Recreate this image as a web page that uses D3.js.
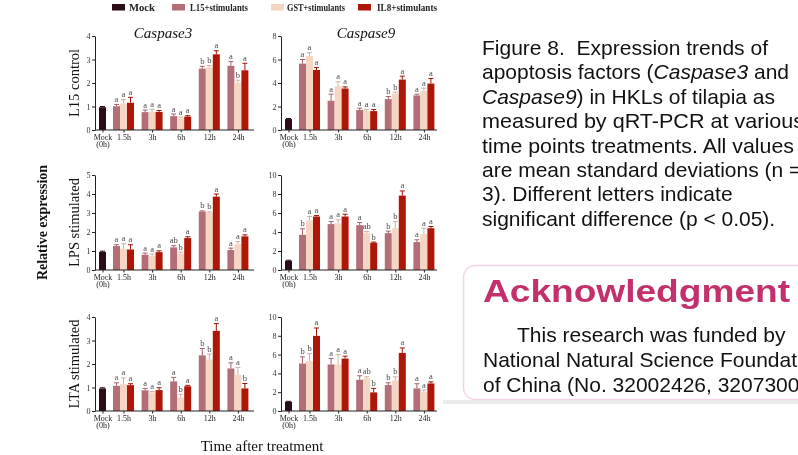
<!DOCTYPE html>
<html>
<head>
<meta charset="utf-8">
<script src="https://cdn.jsdelivr.net/npm/d3@7"></script>
<style>
  html, body { margin: 0; padding: 0; background: #fff; }
  svg { display: block; will-change: transform; }
  text { white-space: pre; }
</style>
</head>
<body>
<svg id="fig" width="798" height="455"></svg>
<script>
// ---- categories ----
const timePoints = ["1.5h", "3h", "6h", "12h", "24h"];
const seriesNames = ["L15+stimulants", "GST+stimulants", "IL8+stimulants"];
const legendNames = ["Mock", "L15+stimulants", "GST+stimulants", "IL8+stimulants"];
const genes = ["Caspase3", "Caspase9"];
const treatments = ["L15 control", "LPS stimulated", "LTA stimulated"];

// y-axis maxima and tick steps, [treatment][gene]
const yMaxima = [[4, 8], [5, 10], [4, 10]];
const yTickSteps = [1, 2];

// Mock (0h) mean and SD, [treatment][gene]
const mockMean = [[0.97, 0.93], [0.95, 0.98], [0.96, 0.99]];
const mockErr  = [[0.03, 0.05], [0.04, 0.05], [0.03, 0.04]];

// rows: L15, GST, IL8 ; columns: time points
const casp3ControlMean = [[1.01, 0.76, 0.59, 2.61, 2.73], [1.13, 0.76, 0.49, 2.66, 2.02], [1.16, 0.77, 0.57, 3.22, 2.54]];
const casp3ControlErr  = [[0.08, 0.09, 0.09, 0.10, 0.18], [0.16, 0.12, 0.06, 0.08, 0.10], [0.23, 0.06, 0.04, 0.15, 0.30]];
const casp3ControlSig  = [["a", "a", "a", "b", "a"], ["a", "a", "a", "b", "b"], ["a", "a", "a", "a", "a"]];

const casp9ControlMean = [[5.65, 2.49, 1.70, 2.63, 2.94], [6.30, 3.73, 1.64, 3.10, 3.33], [5.11, 3.53, 1.61, 4.29, 3.95]];
const casp9ControlErr  = [[0.35, 0.56, 0.16, 0.22, 0.11], [0.28, 0.37, 0.11, 0.12, 0.23], [0.20, 0.14, 0.14, 0.29, 0.43]];
const casp9ControlSig  = [["a", "a", "a", "b", "a"], ["a", "a", "a", "b", "a"], ["a", "a", "a", "a", "a"]];

const casp3LpsMean = [[1.26, 0.80, 1.19, 3.08, 1.05], [1.12, 0.75, 0.87, 3.02, 1.36], [1.08, 0.94, 1.68, 3.86, 1.77]];
const casp3LpsErr  = [[0.07, 0.09, 0.09, 0.03, 0.10], [0.26, 0.09, 0.07, 0.04, 0.14], [0.25, 0.07, 0.07, 0.14, 0.08]];
const casp3LpsSig  = [["a", "a", "ab", "b", "a"], ["a", "a", "b", "b", "a"], ["a", "a", "a", "a", "a"]];

const casp9LpsMean = [[3.70, 4.83, 4.72, 3.88, 2.94], [5.20, 4.90, 3.88, 4.40, 3.78], [5.63, 5.63, 2.87, 7.83, 4.40]];
const casp9LpsErr  = [[0.64, 0.27, 0.28, 0.21, 0.24], [0.43, 0.38, 0.17, 0.70, 0.62], [0.10, 0.24, 0.07, 0.49, 0.18]];
const casp9LpsSig  = [["b", "a", "a", "b", "a"], ["a", "a", "ab", "b", "a"], ["a", "a", "b", "a", "a"]];

const casp3LtaMean = [[1.07, 0.88, 1.26, 2.37, 1.81], [1.14, 0.79, 0.58, 2.20, 1.55], [1.10, 0.89, 1.05, 3.41, 0.96]];
const casp3LtaErr  = [[0.13, 0.08, 0.17, 0.29, 0.24], [0.27, 0.04, 0.13, 0.22, 0.30], [0.06, 0.10, 0.04, 0.31, 0.21]];
const casp3LtaSig  = [["a", "a", "a", "b", "a"], ["a", "a", "b", "b", "a"], ["a", "a", "a", "a", "b"]];

const casp9LtaMean = [[5.05, 4.95, 3.32, 2.76, 2.40], [5.30, 4.95, 3.46, 3.25, 2.05], [7.99, 5.58, 1.98, 6.18, 2.93]];
const casp9LtaErr  = [[0.71, 0.63, 0.43, 0.24, 0.50], [0.81, 1.05, 0.18, 0.39, 0.18], [0.84, 0.25, 0.42, 0.53, 0.17]];
const casp9LtaSig  = [["b", "a", "a", "b", "a"], ["b", "a", "ab", "b", "a"], ["a", "a", "b", "a", "a"]];

// ---- styling ----
const serif = "'Liberation Serif', 'Times New Roman', serif";
const sans = "'Liberation Sans', Arial, sans-serif";
const fillColor = d3.scaleOrdinal().domain(legendNames).range(["#2b0d1a", "#b46e77", "#f4d6c2", "#ae1707"]);
const errColor = d3.scaleOrdinal().domain(legendNames).range(["#2b0d1a", "#a4636c", "#cdb2a2", "#9c1507"]);

const svg = d3.select("#fig");

// ---- panel layout ----
const colAxisX = [95, 281];
const colAxisEnd = [254, 437];
const rowBase = [130, 270, 411];
const rowTop = [36, 175, 317];

const panelData = [
  [[casp3ControlMean, casp3ControlErr, casp3ControlSig], [casp9ControlMean, casp9ControlErr, casp9ControlSig]],
  [[casp3LpsMean, casp3LpsErr, casp3LpsSig], [casp9LpsMean, casp9LpsErr, casp9LpsSig]],
  [[casp3LtaMean, casp3LtaErr, casp3LtaSig], [casp9LtaMean, casp9LtaErr, casp9LtaSig]]
];

function drawPanel(r, c) {
  const [means, errs, sigs] = panelData[r][c];
  const ax = colAxisX[c];
  const base = rowBase[r];
  const g = svg.append("g");

  const y = d3.scaleLinear().domain([0, yMaxima[r][c]]).range([base, rowTop[r]]);
  const xGroup = d3.scalePoint().domain(timePoints).range([ax + 28.5, ax + 28.5 + 4 * 28.6]);
  const xSub = d3.scaleBand().domain(seriesNames).range([-10.5, 10.5]);
  const bw = xSub.bandwidth();
  const mockX = ax + 7.5;
  const xAll = d3.scaleOrdinal().domain(["Mock"].concat(timePoints))
    .range([mockX].concat(timePoints.map(t => xGroup(t))));

  // bars
  const rows = [];
  seriesNames.forEach((s, si) => timePoints.forEach((t, ti) => {
    rows.push({ s, t, v: means[si][ti], e: errs[si][ti], sig: sigs[si][ti], x: xGroup(t) + xSub(s) });
  }));
  rows.push({ s: "Mock", t: "Mock", v: mockMean[r][c], e: mockErr[r][c], sig: "", x: mockX - bw / 2 });

  g.selectAll("rect.bar").data(rows).join("rect")
    .attr("class", "bar")
    .attr("x", d => d.x).attr("width", bw)
    .attr("y", d => y(d.v)).attr("height", d => base - y(d.v))
    .attr("fill", d => fillColor(d.s));

  // error bars
  const eb = g.selectAll("g.err").data(rows).join("g").attr("class", "err")
    .attr("stroke", d => errColor(d.s)).attr("stroke-width", 1);
  eb.append("line")
    .attr("x1", d => d.x + bw / 2).attr("x2", d => d.x + bw / 2)
    .attr("y1", d => y(d.v)).attr("y2", d => y(d.v + d.e));
  eb.append("line")
    .attr("x1", d => d.x + bw / 2 - 2.5).attr("x2", d => d.x + bw / 2 + 2.5)
    .attr("y1", d => y(d.v + d.e)).attr("y2", d => y(d.v + d.e));

  // significance letters
  g.selectAll("text.sig").data(rows.filter(d => d.sig)).join("text")
    .attr("class", "sig")
    .attr("x", d => d.x + bw / 2).attr("y", d => y(d.v + d.e) - 2.5)
    .attr("text-anchor", "middle")
    .attr("font-family", serif).attr("font-size", 8.5)
    .attr("fill", "#4a4a4a")
    .text(d => d.sig);

  // y axis
  const step = yTickSteps[c];
  const yAxis = d3.axisLeft(y).tickValues(d3.range(0, yMaxima[r][c] + step / 2, step))
    .tickFormat(d3.format("d"))
    .tickSize(3).tickSizeOuter(0).tickPadding(1.5);
  const ya = g.append("g").attr("transform", `translate(${ax},0)`).call(yAxis);
  ya.selectAll("text").attr("font-family", serif).attr("font-size", 8).attr("fill", "#333");
  ya.select(".domain").attr("stroke", "#222");
  ya.selectAll(".tick line").attr("stroke", "#222");

  // x axis
  const xAxis = d3.axisBottom(xAll).tickSize(2.5).tickPadding(1.5);
  const xa = g.append("g").attr("transform", `translate(0,${base})`).call(xAxis);
  xa.select(".domain").remove();
  xa.append("line").attr("x1", ax).attr("x2", colAxisEnd[c]).attr("stroke", "#222");
  xa.selectAll(".tick line").attr("stroke", "#222");
  xa.selectAll("text").attr("font-family", serif).attr("font-size", 8).attr("fill", "#222");
  xa.selectAll(".tick").filter(d => d === "Mock").select("text")
    .text(null)
    .call(t => {
      t.append("tspan").attr("x", 0).text("Mock");
      t.append("tspan").attr("x", 0).attr("dy", "0.95em").text("(0h)");
    });
}

treatments.forEach((_, r) => genes.forEach((_, c) => drawPanel(r, c)));

// gene titles
const titleX = [163, 366];
genes.forEach((gname, c) => {
  svg.append("text").attr("x", titleX[c]).attr("y", 38)
    .attr("text-anchor", "middle").attr("font-family", serif)
    .attr("font-style", "italic").attr("font-size", 15).attr("fill", "#111")
    .text(gname);
});

// row labels
const rowCenter = rowBase.map((b, i) => (b + rowTop[i]) / 2);
treatments.forEach((tname, r) => {
  svg.append("text")
    .attr("transform", `translate(79,${rowCenter[r]}) rotate(-90)`)
    .attr("text-anchor", "middle").attr("font-family", serif)
    .attr("font-size", 14.5).attr("fill", "#111")
    .text(tname);
});

svg.append("text")
  .attr("transform", `translate(47,${rowCenter[1]}) rotate(-90)`)
  .attr("text-anchor", "middle").attr("font-family", serif)
  .attr("font-weight", "bold").attr("font-size", 14).attr("fill", "#111")
  .text("Relative expression");

svg.append("text").attr("x", 262).attr("y", 451)
  .attr("text-anchor", "middle").attr("font-family", serif)
  .attr("font-size", 15).attr("fill", "#111")
  .text("Time after treatment");

// legend
const legSwatchX = [112, 172, 271, 358];
const legTextX = [129, 190, 287, 377];
const legTextW = [26, 58, 58, 60];
const leg = svg.append("g");
legendNames.forEach((n, i) => {
  leg.append("rect").attr("x", legSwatchX[i]).attr("y", 4).attr("width", 13).attr("height", 6.5)
    .attr("fill", fillColor(n));
  leg.append("text").attr("x", legTextX[i]).attr("y", 11)
    .attr("font-family", serif).attr("font-weight", "bold").attr("font-size", 10.5)
    .attr("fill", "#222")
    .attr("textLength", legTextW[i]).attr("lengthAdjust", "spacingAndGlyphs")
    .text(n);
});

// ---- caption ----
const captionLines = [
  [["Figure 8.  Expression trends of", false]],
  [["apoptosis factors (", false], ["Caspase3", true], [" and", false]],
  [["Caspase9", true], [") in HKLs of tilapia as", false]],
  [["measured by qRT-PCR at various", false]],
  [["time points treatments. All values", false]],
  [["are mean standard deviations (n =", false]],
  [["3). Different letters indicate", false]],
  [["significant difference (p < 0.05).", false]]
];
// set widths for lines whose natural width differs in this font
const captionWidths = [null, null, null, 322, 312, null, null, null];
captionLines.forEach((parts, i) => {
  const t = svg.append("text").attr("x", 482).attr("y", 55 + i * 24.4)
    .attr("font-family", sans).attr("font-size", 21).attr("fill", "#111");
  if (captionWidths[i]) t.attr("textLength", captionWidths[i]).attr("lengthAdjust", "spacingAndGlyphs");
  parts.forEach(([txt, it]) => {
    t.append("tspan").attr("font-style", it ? "italic" : "normal").text(txt);
  });
});

// ---- acknowledgment box ----
svg.append("rect").attr("x", 443).attr("y", 400).attr("width", 360).attr("height", 4)
  .attr("fill", "#ececec");
svg.append("rect").attr("x", 463.5).attr("y", 265.5).attr("width", 400).attr("height", 134)
  .attr("rx", 12).attr("fill", "none").attr("stroke", "#f7d3ea").attr("stroke-width", 1.5);
svg.append("text").attr("x", 483).attr("y", 302)
  .attr("font-family", sans).attr("font-weight", "bold").attr("font-size", 32)
  .attr("fill", "#c3306b")
  .attr("textLength", 307).attr("lengthAdjust", "spacingAndGlyphs")
  .text("Acknowledgment");
const ackLines = ["This research was funded by", "National Natural Science Foundation", "of China (No. 32002426, 3207300"];
const ackX = [517, 483, 483];
ackLines.forEach((l, i) => {
  svg.append("text").attr("x", ackX[i]).attr("y", 342 + i * 25)
    .attr("font-family", sans).attr("font-size", 21).attr("fill", "#111")
    .text(l);
});
</script>
</body>
</html>
